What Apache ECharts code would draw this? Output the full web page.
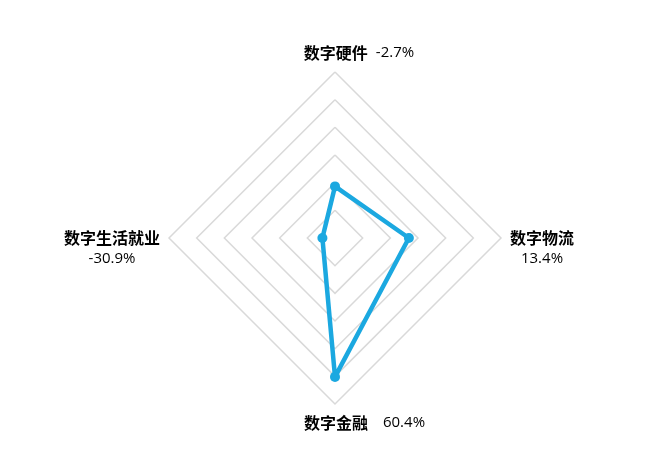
<!DOCTYPE html>
<html>
<head>
<meta charset="utf-8">
<script src="https://cdn.jsdelivr.net/npm/echarts@6/dist/echarts.min.js"></script>
<style>
html, body { margin: 0; padding: 0; background: #fff; }
#chart { width: 652px; height: 463px; }
</style>
</head>
<body>
<div id="chart"></div>
<script>
// 指标（从顶部开始逆时针）
var indicatorNames = ['数字硬件', '数字生活就业', '数字金融', '数字物流'];
// 增速 %
var growthValues = [-2.7, -30.9, 60.4, 13.4];
var valueLabels = ['-2.7%', '-30.9%', '60.4%', '13.4%'];
var axisMin = -40;
var axisMax = 80;

var chart = echarts.init(document.getElementById('chart'));

var option = {
	backgroundColor: '#fff',
	radar: {
		center: [335, 238],
		radius: 166,
		startAngle: 90,
		shape: 'polygon',
		splitNumber: 6,
		indicator: indicatorNames.map(function (n) {
			return { name: n, min: axisMin, max: axisMax };
		}),
		axisName: {
			formatter: function (name) {
				var i = indicatorNames.indexOf(name);
				var v = valueLabels[i];
				if (i === 0) {
					return '{sp0| }{n|' + name + '}{g0| }{v|' + v + '}';
				}
				if (i === 2) {
					return '{sp2| }{n|' + name + '}{g2| }{v|' + v + '}';
				}
				return '{e| }\n{nc|' + name + '}\n{vc|' + v + '}';
			},
			rich: {
				n: { fontFamily: 'Noto Sans CJK SC', fontWeight: 'bold', fontSize: 16, color: '#000', lineHeight: 20 },
				nc: { fontFamily: 'Noto Sans CJK SC', fontWeight: 'bold', fontSize: 16, color: '#000', lineHeight: 21, align: 'center' },
				v: { fontFamily: 'Open Sans', fontSize: 15, color: '#000', lineHeight: 20 },
				vc: { fontFamily: 'Open Sans', fontSize: 15, color: '#000', lineHeight: 21, align: 'center' },
				e: { fontSize: 14, lineHeight: 21, align: 'center' },
				sp0: { width: 48 },
				g0: { width: 8 },
				sp2: { width: 59 },
				g2: { width: 15 }
			}
		},
		nameGap: 9,
		splitLine: {
			lineStyle: { color: '#d9d9d9', width: 1.5 }
		},
		splitArea: { show: false },
		axisLine: { show: false },
		axisTick: { show: false },
		axisLabel: { show: false }
	},
	series: [
		{
			name: '增速',
			type: 'radar',
			symbol: 'circle',
			symbolSize: 10,
			lineStyle: { color: '#1ba8e0', width: 4.5 },
			itemStyle: { color: '#1ba8e0' },
			data: [
				{ value: growthValues, name: '增速' }
			]
		}
	]
};
chart.setOption(option);
</script>
</body>
</html>
